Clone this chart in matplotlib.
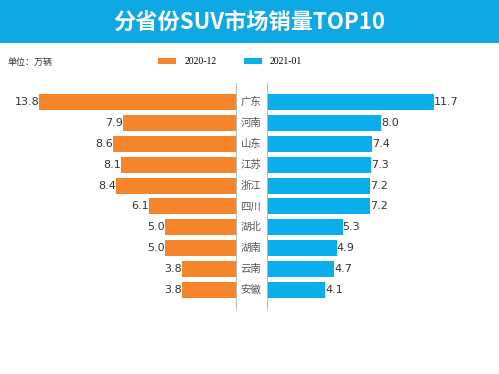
import matplotlib.pyplot as plt
import matplotlib.transforms as mtransforms
from matplotlib.patches import Rectangle

plt.rcParams['font.family'] = ['Noto Sans CJK SC', 'DejaVu Sans']

provinces = ['广东', '河南', '山东', '江苏', '浙江', '四川', '湖北', '湖南', '云南', '安徽']
sales_2020_12 = [13.8, 7.9, 8.6, 8.1, 8.4, 6.1, 5.0, 5.0, 3.8, 3.8]
sales_2021_01 = [11.7, 8.0, 7.4, 7.3, 7.2, 7.2, 5.3, 4.9, 4.7, 4.1]
series_names = ['2020-12', '2021-01']

orange = '#f5842a'
blue = '#0aaeea'
W, H = 499, 374


def main():
    fig = plt.figure(figsize=(W / 100, H / 100), dpi=100)

    # title band
    fig.patches.append(Rectangle((0, 1 - 43 / H), 1, 43 / H, transform=fig.transFigure,
                                 facecolor='#0ea9e4', edgecolor='none', zorder=0))
    fig.text(0.5, 1 - 22 / H, '分省份SUV市场销量TOP10', ha='center', va='center',
             color='white', fontsize=16, fontweight='bold')
    fig.text(8 / W, 1 - 62 / H, '单位：万辆', ha='left', va='center', fontsize=6.5, color='#333333')

    bottom = 1 - 309 / H
    height = (309 - 83) / H
    ax_l = fig.add_axes([20 / W, bottom, (236 - 20) / W, height])
    ax_r = fig.add_axes([267 / W, bottom, (480 - 267) / W, height])

    ys = list(range(len(provinces)))
    bl = ax_l.barh(ys, sales_2020_12, height=0.77, color=orange, label=series_names[0])
    br = ax_r.barh(ys, sales_2021_01, height=0.77, color=blue, label=series_names[1])

    scale = 14.25
    ax_l.set_xlim(216 / scale, 0)
    ax_r.set_xlim(0, 213 / scale)
    for ax in (ax_l, ax_r):
        ax.set_ylim(9.91, -0.91)
        ax.set_xticks([])
        ax.set_yticks([])
        for s in ax.spines.values():
            s.set_visible(False)
    ax_l.spines['right'].set_visible(True)
    ax_l.spines['right'].set_color('#bbbbbb')
    ax_r.spines['left'].set_visible(True)
    ax_r.spines['left'].set_color('#bbbbbb')

    for y, v in zip(ys, sales_2020_12):
        ax_l.text(v, y, f'{v:.1f}', ha='right', va='center', fontsize=8, color='#333333',
                  family='DejaVu Sans')
    for y, v in zip(ys, sales_2021_01):
        ax_r.text(v, y, f'{v:.1f}', ha='left', va='center', fontsize=8, color='#333333',
                  family='DejaVu Sans')

    trans = mtransforms.blended_transform_factory(fig.transFigure, ax_r.transData)
    for y, p in zip(ys, provinces):
        fig.text(251 / W, y, p, transform=trans, ha='center', va='center', fontsize=7.5,
                 color='#555555')

    fig.legend(handles=[bl, br], loc='center', bbox_to_anchor=(230 / W, 1 - 62 / H), ncol=2,
               frameon=False, prop={'family': 'Liberation Serif', 'size': 7},
               handlelength=1.9, handleheight=0.6, columnspacing=2.8, handletextpad=0.8)

    fig.savefig('out.png', dpi=100, facecolor='white')


if __name__ == '__main__':
    main()
